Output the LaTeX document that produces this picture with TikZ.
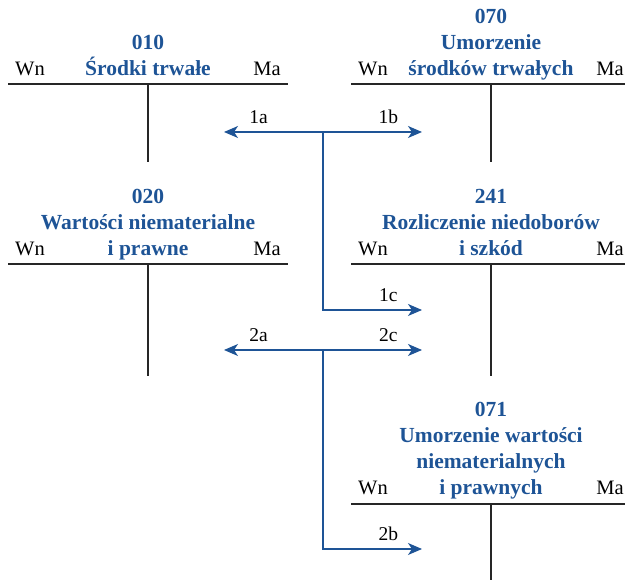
\documentclass[tikz,border=0pt]{standalone}
\usepackage{fontspec}
\setmainfont{Liberation Serif}
\usetikzlibrary{arrows.meta,positioning}
\definecolor{accblue}{RGB}{30,84,150}
\tikzset{
    acctitle/.style={
    font=\fontsize{21.5}{26}\selectfont\bfseries,text=accblue,align=center,anchor=base,inner sep=0pt
    },
    side/.style={
    font=\fontsize{20.5}{26}\selectfont,inner sep=0pt
    },
    tline/.style={
    draw=black!85,line width=1.4pt
    },
    flow/.style={
    draw=accblue,line width=1.4pt,-{Stealth[length=14pt,width=12pt,inset=4pt]}
    },
    lbl/.style={
    font=\fontsize{19.5}{24}\selectfont,inner sep=0pt,above=8pt
    },
}
\begin{document}
\begin{tikzpicture}[x=1pt,y=-1pt]
  \clip (0,0) rectangle (625,580);

  % 010 Srodki trwale
  \coordinate (a010l) at (8,84);
  \coordinate (a010r) at (288,84);
  \coordinate (a010t) at (148,84);
  \coordinate (a010b) at (148,162);
  \node[side,anchor=base west] (a010wn) at (15,76) {Wn};
  \node[side,anchor=base east] (a010ma) at (281,76) {Ma};
  \node[acctitle] (a010) at (148,76) {010\\Środki trwałe};
  \draw[tline] (a010l) -- (a010r) (a010t) -- (a010b);

  % 070 Umorzenie srodkow trwalych
  \coordinate (a070l) at (351,84);
  \coordinate (a070r) at (631,84);
  \coordinate (a070t) at (491,84);
  \coordinate (a070b) at (491,162);
  \node[side,anchor=base west] (a070wn) at (358,76) {Wn};
  \node[side,anchor=base east] (a070ma) at (624,76) {Ma};
  \node[acctitle] (a070) at (491,76) {070\\Umorzenie\\środków trwałych};
  \draw[tline] (a070l) -- (a070r) (a070t) -- (a070b);

  % 020 Wartosci niematerialne i prawne
  \coordinate (a020l) at (8,264);
  \coordinate (a020r) at (288,264);
  \coordinate (a020t) at (148,264);
  \coordinate (a020b) at (148,376);
  \node[side,anchor=base west] (a020wn) at (15,256) {Wn};
  \node[side,anchor=base east] (a020ma) at (281,256) {Ma};
  \node[acctitle] (a020) at (148,256) {020\\Wartości niematerialne\\i prawne};
  \draw[tline] (a020l) -- (a020r) (a020t) -- (a020b);

  % 241 Rozliczenie niedoborow i szkod
  \coordinate (a241l) at (351,264);
  \coordinate (a241r) at (631,264);
  \coordinate (a241t) at (491,264);
  \coordinate (a241b) at (491,376);
  \node[side,anchor=base west] (a241wn) at (358,256) {Wn};
  \node[side,anchor=base east] (a241ma) at (624,256) {Ma};
  \node[acctitle] (a241) at (491,256) {241\\Rozliczenie niedoborów\\i szkód};
  \draw[tline] (a241l) -- (a241r) (a241t) -- (a241b);

  % 071 Umorzenie wartosci niematerialnych i prawnych
  \coordinate (a071l) at (351,504);
  \coordinate (a071r) at (631,504);
  \coordinate (a071t) at (491,504);
  \coordinate (a071b) at (491,590);
  \node[side,anchor=base west] (a071wn) at (358,495) {Wn};
  \node[side,anchor=base east] (a071ma) at (624,495) {Ma};
  \node[acctitle] (a071) at (491,495) {071\\Umorzenie wartości\\niematerialnych\\i prawnych};
  \draw[tline] (a071l) -- (a071r) (a071t) -- (a071b);

  % operation 1
  \coordinate (b1) at (323,132);
  \coordinate (t1a) at (224,132);
  \coordinate (t1b) at (422,132);
  \coordinate (t1c) at (422,310);
  \draw[flow] (b1) -- (t1a) node[lbl,pos=0.65] {1a};
  \draw[flow] (b1) -- (t1b) node[lbl,pos=0.66] {1b};
  \draw[flow] (b1) |- (t1c) node[lbl,pos=0.83] {1c};

  % operation 2
  \coordinate (b2) at (323,350);
  \coordinate (t2a) at (224,350);
  \coordinate (t2c) at (422,350);
  \coordinate (t2b) at (422,549);
  \draw[flow] (b2) -- (t2a) node[lbl,pos=0.65] {2a};
  \draw[flow] (b2) -- (t2c) node[lbl,pos=0.66] {2c};
  \draw[flow] (b2) |- (t2b) node[lbl,pos=0.83] {2b};
\end{tikzpicture}
\end{document}
